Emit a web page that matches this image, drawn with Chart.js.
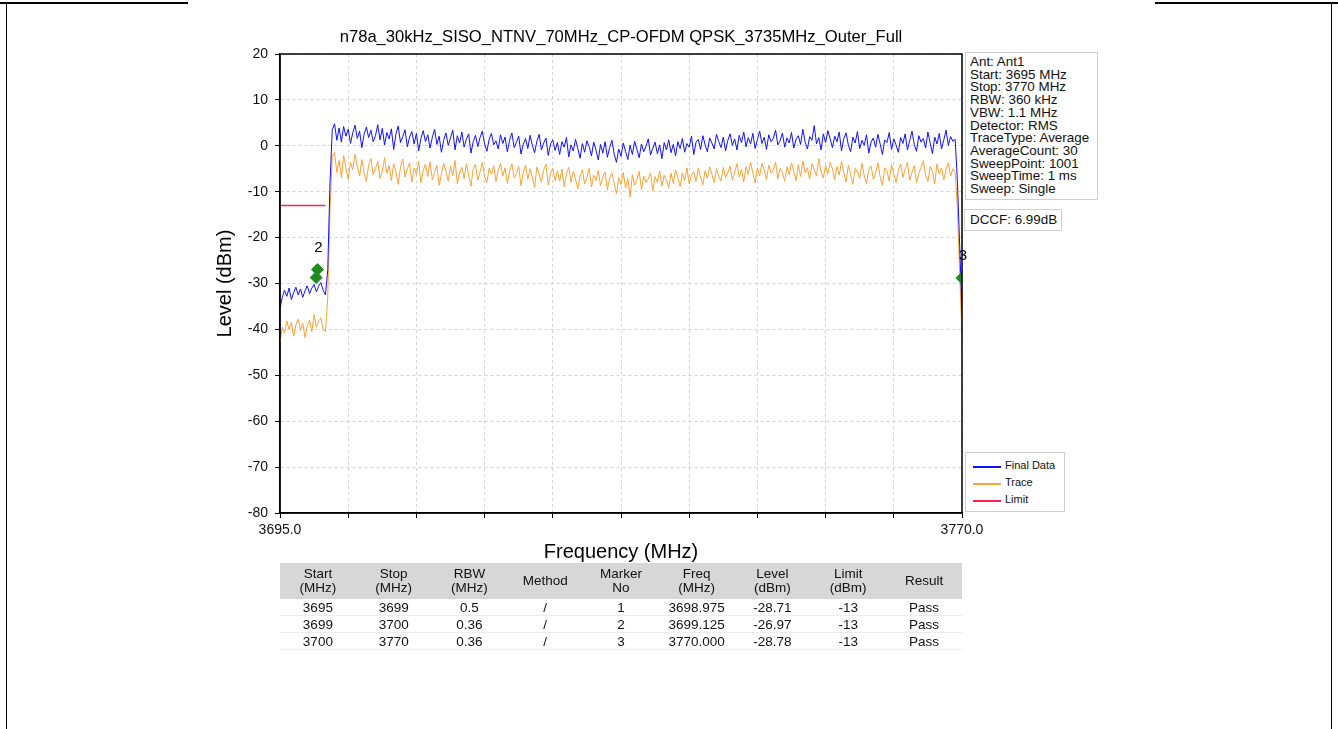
<!DOCTYPE html>
<html>
<head>
<meta charset="utf-8">
<script src="https://cdn.jsdelivr.net/npm/chart.js@4.4.1/dist/chart.umd.min.js"></script>
<style>
  body { margin: 0; background: #fff; font-family: "Liberation Sans", Arial, sans-serif; }
  #page { position: relative; width: 1338px; height: 729px; overflow: hidden; }
  #plot { position: absolute; left: 0; top: 0; }
  .edge { position: absolute; background: #000; }
  #title { position: absolute; left: 221px; width: 800px; top: 27px; text-align: center; font-size: 16.6px; color: #000; }
  .box { position: absolute; border: 1px solid #cfcfcf; background: #fff; font-size: 13.4px; line-height: 12.7px; color: #111; }
  #info { left: 965px; top: 52px; width: 127px; padding: 3px 0 3px 4px; white-space: nowrap; }
  #dccf { left: 964px; top: 209px; padding: 4px 4px 3px 5px; }
  #legend { left: 965px; top: 452px; width: 98px; height: 58px; font-size: 11px; }
  #legend div { position: absolute; left: 39px; }
  #legend span { position: absolute; left: -32px; width: 28px; height: 1.5px; top: 7px; }
  #tbl { position: absolute; left: 280px; top: 563px; width: 682px; border-collapse: collapse;
         font-family: "Liberation Sans Narrow", "Liberation Sans", Arial, sans-serif; font-size: 13.5px; color: #111; }
  #tbl th { background: #d7d7d7; font-weight: normal; line-height: 14px; height: 36px; padding: 0; width: 11.1%; }
  #tbl td { text-align: center; line-height: 15px; height: 16px; padding: 0; border-bottom: 1px solid #ececec; }
</style>
</head>
<body>
<div id="page">
  <canvas id="plot" width="1338" height="729"></canvas>
  <div class="edge" style="left:0;top:2px;width:188px;height:2px"></div>
  <div class="edge" style="left:1155px;top:2px;width:183px;height:2px"></div>
  <div class="edge" style="left:6px;top:3px;width:1px;height:726px"></div>
  <div class="edge" style="left:1331px;top:3px;width:1px;height:726px"></div>
  <div id="title"></div>
  <div id="info" class="box"></div>
  <div id="dccf" class="box"></div>
  <div id="legend" class="box"></div>
  <table id="tbl"><thead><tr id="thead"></tr></thead><tbody id="tbody"></tbody></table>
</div>
<script>
const chartTitle = 'n78a_30kHz_SISO_NTNV_70MHz_CP-OFDM QPSK_3735MHz_Outer_Full';
const infoLines = ['Ant: Ant1', 'Start: 3695 MHz', 'Stop: 3770 MHz', 'RBW: 360 kHz', 'VBW: 1.1 MHz',
  'Detector: RMS', 'TraceType: Average', 'AverageCount: 30', 'SweepPoint: 1001', 'SweepTime: 1 ms', 'Sweep: Single'];
const dccfText = 'DCCF: 6.99dB';

// sweep grid (MHz)
const freqStart = 3695;
const freqStop = 3770;
const freqStep = 0.25;

// Final Data (dBm), one value per sweep step
const finalData = [
  -35.5, -33, -31.5, -32.8, -31, -33.5, -32, -30.8, -32.5, -31.2, -33, -31.6, -30.5, -32.2, -31, -30.2, -31.8, -30.6, -29.8, -31.5,
  -32.5, -27, -8, 
  3.5, 4.8, 1.2, 3.9, 0.8, 4.2, 2.1, 3.6, 0.5, 2.8, 4.5, 1.6, 3.2, -0.4, 2.5, 4.1, 1.8, 3.4, 0.9, 2.2, 4.6, 1.3, 3.8, 0.2, 2.9,
  1.5, 3.7, -0.8, 2.6, 4.3, 0.7, 2.0, 3.5, -0.2, 1.9, 3.1, 0.4, 2.7, -1.1, 1.6, 3.3, 0.9, 2.4, -0.5, 1.8, 3.6, 0.3, 2.1, -1.4, 1.2,
  2.8, 0.1, 1.7, 3.4, -0.9, 2.2, 0.6, 3.0, -0.3, 1.5, 2.6, -1.6, 0.9, 2.3, -0.2, 1.8, 3.2, 0.4, -1.2, 1.4, 2.7, 0.2, 1.1, -0.7, 2.4,
  0.5, 1.9, -1.3, 1.2, 2.8, -0.4, 0.8, 2.1, -1.8, 0.3, 1.6, -0.6, 2.3, 0.1, -1.5, 1.0, 2.5, -0.9, 0.6, 1.7, -2.1, 0.4, 1.3, -1.0, 0.7,
  -1.9, 0.9, -0.3, 1.8, -2.4, 0.2, -1.1, 1.4, -0.6, -2.7, 0.5, -1.4, 1.1, -0.2, -2.2, 0.8, -0.9, -3.1, 0.3, -1.6, 0.9, -2.5, -0.4, 1.2, -1.8,
  -3.6, -0.7, -2.3, 0.6, -1.2, -3.0, 0.1, -1.9, 1.0, -0.8, -2.6, 0.4, -1.3, -0.1, 1.5, -2.0, -0.5, 0.8, -1.7, 0.2, -2.8, 0.7, -0.9, 1.3, -1.5,
  0.3, -2.2, 0.9, -0.6, 1.6, -1.4, 0.5, -0.3, 2.1, -1.9, 0.8, 1.4, -0.8, 2.2, 0.2, -1.3, 1.7, 0.6, -0.7, 2.5, 0.9, -0.4, 1.9, -1.1, 1.2,
  2.6, 0.1, 1.5, -0.9, 2.3, 0.7, 3.0, -0.2, 1.8, 0.4, 2.7, -0.6, 1.3, 3.2, 0.5, 1.9, -0.8, 2.4, 0.9, 1.6, 3.4, 0.2, 1.1, 2.8, -0.3,
  1.7, 0.6, 2.9, -0.5, 1.4, 2.2, 0.3, 3.6, 0.8, -0.7, 2.0, 1.2, 4.4, 0.4, 1.8, -0.9, 2.6, 0.7, 3.3, 1.5, -0.4, 2.1, 0.9, 3.0, -1.1,
  1.6, 2.8, 0.2, -1.3, 1.9, 0.6, 3.1, -0.6, 1.2, 0.1, 2.4, -1.6, 0.8, 1.7, -0.3, 2.5, 0.4, -1.9, 1.3, 0.7, 2.9, -0.8, 1.5, 0.2, -1.4,
  1.8, 0.5, 2.6, -0.9, 1.1, 3.2, 0.3, -1.2, 2.2, 0.8, 1.6, -0.5, 3.0, 0.6, -1.7, 1.9, 0.4, 2.7, -0.7, 1.3, 3.4, 0.1, 2.0, 1.0, 1.4,
  -8, -22, -36
];

// Trace (dBm)
const traceData = [
  -43, -39.5, -40.8, -38.2, -40, -38.5, -41.5, -39, -37.8, -40.2, -38.6, -41.8, -39.2, -38, -40.5, -36.8, -39.5, -38.2, -37.5, -40,
  -40.5, -33, -14,
  -2.5, -1.4, -5.8, -3.2, -6.9, -2.1, -4.7, -7.3, -3.6, -5.2, -1.9, -4.4, -6.6, -3.0, -5.9, -7.8, -4.1, -2.8, -6.3, -4.9, -3.4, -7.1, -5.5, -2.6, -6.0,
  -4.3, -7.6, -3.9, -5.7, -8.4, -4.6, -2.9, -6.8, -5.1, -3.7, -7.9, -4.8, -6.2, -3.3, -8.1, -5.4, -4.0, -6.7, -3.5, -7.4, -5.8, -4.2, -8.6, -6.1, -3.8,
  -5.6, -7.7, -4.4, -6.5, -3.2, -8.3, -5.9, -4.7, -7.2, -3.9, -6.4, -8.8, -5.0, -4.1, -7.5, -5.7, -3.6, -6.9, -8.0, -4.9, -6.2, -4.3, -7.8, -5.3, -3.8,
  -6.6, -4.8, -8.2, -5.5, -3.9, -7.0, -6.1, -4.5, -8.7, -5.8, -4.2, -7.3, -5.0, -6.8, -9.1, -4.6, -6.3, -7.9, -5.2, -4.0, -8.5, -6.0, -4.9, -7.6, -5.4,
  -7.7, -5.1, -8.9, -6.2, -4.7, -8.0, -5.6, -7.2, -9.4, -6.5, -5.3, -8.3, -6.9, -4.9, -9.0, -6.4, -7.6, -5.4, -8.7, -6.8, -5.7, -9.6, -7.0, -5.9, -8.1,
  -10.5, -6.9, -8.4, -5.8, -9.2, -7.1, -11.2, -6.3, -8.6, -7.4, -5.6, -9.5, -6.6, -8.0, -7.2, -5.9, -9.8, -6.7, -7.9, -5.5, -8.8, -6.4, -7.5, -9.1, -6.0,
  -8.2, -5.3, -7.0, -8.9, -5.9, -7.6, -4.8, -8.3, -6.4, -5.6, -7.8, -4.9, -6.8, -8.5, -5.4, -7.1, -4.6, -6.2, -8.0, -5.0, -6.6, -7.7, -4.7, -6.9, -5.8,
  -4.4, -7.5, -5.7, -3.9, -6.8, -5.1, -7.9, -4.5, -6.2, -3.6, -5.9, -8.1, -4.8, -6.5, -3.8, -5.3, -7.4, -4.2, -6.0, -5.2, -3.5, -7.2, -4.9, -5.8, -7.7,
  -4.6, -6.3, -3.7, -5.5, -7.6, -4.1, -6.7, -3.3, -5.9, -4.8, -7.2, -3.9, -5.2, -6.6, -2.8, -5.7, -7.0, -4.3, -6.1, -3.6, -5.0, -7.4, -4.5, -6.4, -3.4,
  -5.8, -7.9, -4.2, -6.3, -8.4, -4.9, -5.7, -7.1, -3.8, -6.6, -8.2, -5.1, -4.4, -7.3, -5.9, -3.7, -6.8, -8.6, -4.8, -5.5, -7.7, -4.1, -6.2, -8.0, -5.3,
  -4.0, -6.9, -5.1, -3.6, -7.5, -5.8, -4.3, -8.1, -6.0, -4.7, -3.2, -6.5, -7.8, -4.5, -5.6, -8.3, -3.9, -6.2, -4.8, -7.4, -5.2, -3.7, -6.6, -5.0, -5.8,
  -14, -28, -42
];

const limitFreq = [3695, 3700];
const limitLevel = [-13, -13];

const markerNo = ['1', '2', '3'];
const markerFreq = [3698.975, 3699.125, 3770.0];
const markerLevel = [-28.71, -26.97, -28.78];
const markerShown = ['2', '3'];   // label 1 sits under label 2

const tableHead = ['Start<br>(MHz)', 'Stop<br>(MHz)', 'RBW<br>(MHz)', 'Method', 'Marker<br>No',
  'Freq<br>(MHz)', 'Level<br>(dBm)', 'Limit<br>(dBm)', 'Result'];
const tableRows = [
  ['3695', '3699', '0.5', '/', '1', '3698.975', '-28.71', '-13', 'Pass'],
  ['3699', '3700', '0.36', '/', '2', '3699.125', '-26.97', '-13', 'Pass'],
  ['3700', '3770', '0.36', '/', '3', '3770.000', '-28.78', '-13', 'Pass']
];

const legendItems = [['Final Data', '#1010ff'], ['Trace', '#ffa033'], ['Limit', '#ff1f4f']];

// ---- html parts
document.getElementById('title').textContent = chartTitle;
document.getElementById('info').innerHTML = infoLines.join('<br>');
document.getElementById('dccf').textContent = dccfText;
document.getElementById('legend').innerHTML = legendItems.map((it, i) =>
  `<div style="top:${6 + i * 17}px"><span style="background:${it[1]}"></span>${it[0]}</div>`).join('');
document.getElementById('thead').innerHTML = tableHead.map(h => `<th>${h}</th>`).join('');
document.getElementById('tbody').innerHTML = tableRows.map(r =>
  '<tr>' + r.map(c => `<td>${c}</td>`).join('') + '</tr>').join('');

// ---- chart
const toXY = vals => vals.map((v, i) => ({ x: freqStart + i * freqStep, y: v }));

const frameAndLabels = {
  id: 'frameAndLabels',
  afterDraw(chart) {
    const { ctx, chartArea: a, scales } = chart;
    ctx.save();
    ctx.strokeStyle = '#000';
    ctx.lineWidth = 1.5;
    ctx.strokeRect(a.left, a.top, a.right - a.left, a.bottom - a.top);
    ctx.fillStyle = '#000';
    ctx.font = '15px "Liberation Sans", Arial, sans-serif';
    ctx.textAlign = 'center';
    ctx.textBaseline = 'middle';
    markerNo.forEach((n, i) => {
      if (!markerShown.includes(n)) return;
      const px = scales.x.getPixelForValue(markerFreq[i]);
      const py = scales.y.getPixelForValue(markerLevel[i]);
      ctx.fillText(n, px + 1, py - 22);
    });
    ctx.restore();
  }
};

new Chart(document.getElementById('plot'), {
  type: 'line',
  data: {
    datasets: [
      {
        label: 'Markers',
        type: 'scatter',
        data: markerFreq.map((f, i) => ({ x: f, y: markerLevel[i] })),
        pointStyle: 'rectRot',
        pointRadius: 6,
        backgroundColor: '#1e8c1e',
        borderColor: '#1e8c1e',
        showLine: false
      },
      {
        label: 'Final Data',
        data: toXY(finalData),
        borderColor: '#1010ff',
        borderWidth: 1,
        pointRadius: 0
      },
      {
        label: 'Trace',
        data: toXY(traceData),
        borderColor: '#ffa033',
        borderWidth: 1,
        pointRadius: 0
      },
      {
        label: 'Limit',
        data: limitFreq.map((f, i) => ({ x: f, y: limitLevel[i] })),
        borderColor: '#ff1f4f',
        borderWidth: 1.5,
        pointRadius: 0
      }
    ]
  },
  options: {
    responsive: false,
    animation: false,
    layout: { padding: { left: 209, right: 376, top: 54, bottom: 161 } },
    plugins: { legend: { display: false }, tooltip: { enabled: false } },
    scales: {
      x: {
        type: 'linear',
        min: freqStart,
        max: freqStop,
        afterFit: s => { s.height = 55; },
        ticks: {
          stepSize: 7.5,
          autoSkip: false,
          maxRotation: 0,
          padding: 4,
          color: '#111',
          font: { family: '"Liberation Sans", Arial', size: 14 },
          callback: v => (v === freqStart || v === freqStop) ? v.toFixed(1) : ''
        },
        grid: { color: '#d2d2d2', tickColor: '#000', tickLength: 5, tickWidth: 1 },
        border: { color: '#000', width: 1.5, dash: [3, 3] },
        title: { display: true, text: 'Frequency (MHz)', color: '#000',
                 font: { family: '"Liberation Sans", Arial', size: 20 } }
      },
      y: {
        min: -80,
        max: 20,
        afterFit: s => { s.width = 71; },
        ticks: {
          stepSize: 10,
          padding: 7,
          color: '#111',
          font: { family: '"Liberation Sans", Arial', size: 14 }
        },
        grid: { color: '#d2d2d2', tickColor: '#000', tickLength: 5, tickWidth: 1 },
        border: { color: '#000', width: 1.5, dash: [3, 3] },
        title: { display: true, text: 'Level (dBm)', color: '#000',
                 font: { family: '"Liberation Sans", Arial', size: 20 } }
      }
    }
  },
  plugins: [frameAndLabels]
});
</script>
</body>
</html>
